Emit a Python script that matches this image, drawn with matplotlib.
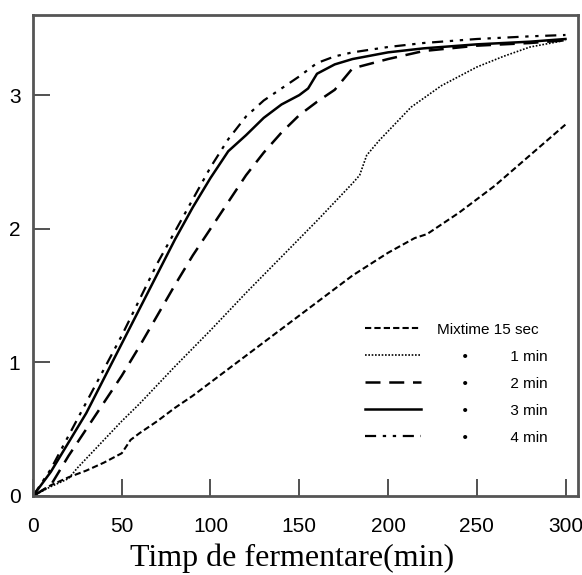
import matplotlib.pyplot as plt
from matplotlib import font_manager

# fermentation time (min) and values for each mixing time
t_15s = [0, 10, 20, 30, 40, 50, 55, 60, 70, 80, 90, 100, 120, 140, 160, 180, 200, 215, 222, 240, 260, 280, 300]
y_15s = [0, 0.08, 0.14, 0.19, 0.25, 0.32, 0.42, 0.47, 0.56, 0.66, 0.75, 0.85, 1.05, 1.25, 1.45, 1.65, 1.82, 1.93, 1.96, 2.12, 2.32, 2.55, 2.78]

t_1 = [0, 10, 20, 25, 30, 40, 50, 60, 80, 100, 120, 140, 160, 180, 184, 188, 195, 213, 230, 250, 265, 280, 300]
y_1 = [0, 0.07, 0.13, 0.21, 0.28, 0.42, 0.56, 0.69, 0.97, 1.24, 1.52, 1.79, 2.06, 2.34, 2.40, 2.55, 2.66, 2.91, 3.07, 3.21, 3.29, 3.36, 3.41]

t_2 = [0, 10, 20, 30, 40, 50, 60, 70, 80, 90, 100, 110, 120, 130, 140, 150, 160, 170, 175, 180, 200, 220, 250, 280, 300]
y_2 = [0, 0.08, 0.3, 0.5, 0.7, 0.9, 1.12, 1.35, 1.58, 1.8, 2.0, 2.2, 2.4, 2.57, 2.72, 2.85, 2.95, 3.04, 3.12, 3.2, 3.27, 3.33, 3.37, 3.39, 3.41]

t_3 = [0, 10, 20, 30, 40, 50, 60, 70, 80, 90, 100, 110, 120, 130, 140, 150, 155, 160, 170, 180, 200, 220, 250, 280, 300]
y_3 = [0, 0.18, 0.4, 0.62, 0.88, 1.14, 1.4, 1.66, 1.92, 2.16, 2.38, 2.58, 2.7, 2.83, 2.93, 3.0, 3.05, 3.16, 3.23, 3.27, 3.32, 3.35, 3.38, 3.4, 3.42]

t_4 = [0, 10, 20, 30, 40, 50, 60, 70, 80, 90, 100, 110, 120, 130, 140, 150, 160, 170, 180, 200, 220, 250, 280, 300]
y_4 = [0, 0.2, 0.45, 0.7, 0.95, 1.2, 1.47, 1.74, 1.98, 2.22, 2.46, 2.67, 2.84, 2.96, 3.05, 3.14, 3.24, 3.29, 3.32, 3.36, 3.39, 3.42, 3.44, 3.45]

labels = ["Mixtime 15 sec", "      \u2022          1 min", "      \u2022          2 min",
          "      \u2022          3 min", "      \u2022          4 min"]
x_ticks = [0, 50, 100, 150, 200, 250, 300]
y_ticks = [0, 1, 2, 3]

names = {f.name for f in font_manager.fontManager.ttflist}
narrow = "Liberation Sans Narrow" if "Liberation Sans Narrow" in names else "Liberation Sans"

fig = plt.figure(figsize=(5.82, 5.75), dpi=100)
ax = fig.add_axes([0.0567, 0.1374, 0.9363, 0.8366])

ax.plot(t_15s, y_15s, color="black", lw=1.5, ls=(0, (3, 1.5)), label=labels[0])
ax.plot(t_1, y_1, color="black", lw=1.2, ls=(0, (1, 1)), label=labels[1])
ax.plot(t_2, y_2, color="black", lw=1.8, ls=(0, (6, 3.5)), label=labels[2])
ax.plot(t_3, y_3, color="black", lw=1.8, ls="-", label=labels[3])
ax.plot(t_4, y_4, color="black", lw=1.6, ls=(0, (5, 3, 1.5, 3, 1.5, 3)), label=labels[4])

ax.set_xlim(0, 307)
ax.set_ylim(0, 3.6)
ax.set_xticks(x_ticks)
ax.set_yticks(y_ticks)
ax.tick_params(direction="in", length=12, width=1.2, color="#333333", labelsize=15)
ax.tick_params(axis="x", pad=15)
ax.tick_params(axis="y", pad=9)
for lab in ax.get_xticklabels() + ax.get_yticklabels():
    lab.set_family(narrow)
for s in ax.spines.values():
    s.set_linewidth(2)
    s.set_color("#555555")

ax.set_xlabel("Timp de fermentare(min)", family="Liberation Serif", fontsize=23)
ax.xaxis.set_label_coords(0.475, -0.098)

leg = ax.legend(loc="upper left", bbox_to_anchor=(0.609, 0.36), frameon=False,
                prop={"family": narrow, "size": 11}, handlelength=3.7,
                handletextpad=1.0, labelspacing=0.85, borderpad=0, borderaxespad=0)

fig.savefig("out.png", dpi=100)
